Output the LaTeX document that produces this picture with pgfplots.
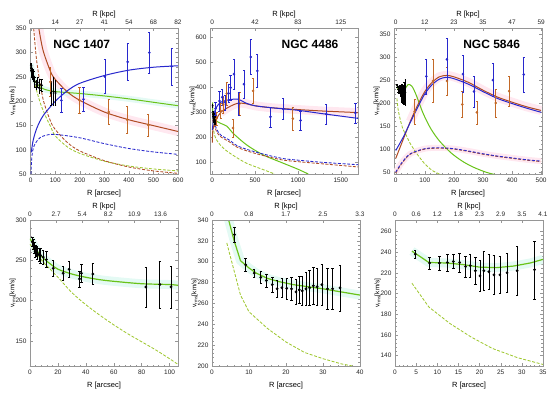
\documentclass[border=0pt]{standalone}
\usepackage{fontspec}
\setmainfont{Liberation Sans}
\usepackage{pgfplots}
\pgfplotsset{compat=1.18}
\usepackage{pgfplotstable}

\definecolor{cblue}{RGB}{40,40,205}
\definecolor{cbrown}{RGB}{175,75,35}
\definecolor{cpt}{RGB}{195,105,40}
\definecolor{cgreen}{RGB}{105,195,25}
\definecolor{cdgreen}{RGB}{160,200,50}
\definecolor{cframe}{RGB}{150,150,150}
\definecolor{cpink}{RGB}{255,232,240}
\definecolor{ccyan}{RGB}{228,250,244}

% NGC 1407 inner (black)
\pgfplotstableread{
x y e
1.7 273 6
2.4 270 6
3.1 266 7
3.6 261 7
4.3 262 7
5.2 259 8
6.4 257 8
7.6 256 9
9.5 254 9
11.8 251 10
16.6 240 10
23.7 234 9
28.0 239 10
35.5 227 10
36.8 234 11
45.0 233 13
83.0 217 25
93.0 220 29
101.0 217 26
}\datA
% NGC 4486 inner (black)
\pgfplotstableread{
x y e
6.1 326 7
9.1 297 6
11.4 289 4
13.2 285 6
14.7 282 6
16.3 278 7
17.6 274 8
18.9 275 9
20.2 274.5 10
21.5 274 11
22.7 271 12
23.6 273 13
24.4 272 14
25.4 274 16
26.4 275 17
27.4 277 18
28.4 276 18
29.7 278 20
31.2 274 20
32.6 274 20
34.6 275 22
}\datB
% NGC 5846 inner (black)
\pgfplotstableread{
x y e
4.8 238 4
8.2 229.5 6
10.5 229.5 7
12.4 230 8
13.8 231 7
15.3 230 9
16.7 226 10
17.8 227 11
19.0 222 13
20.1 217 15
21.0 222 19
22.2 221 17
23.4 218 19
24.8 218 18
26.5 220 19
28.9 222 24
33.0 223 28
}\datC
% NGC 1407 outer
\pgfplotstableread{
x y e
125 202 25
215 204 25
302 251 35
395 281 38
483 300 42
574 272 38
}\bluA
\pgfplotstableread{
x y e
80 240 30
199 202 26
318 178 26
393 162 27
479 151 22
}\redA
% NGC 4486 outer
\pgfplotstableread{
x y e
40 315 25
86 345 40
117 360 30
150 340 30
192 375 35
215 398 50
254 452 60
309 335 45
371 412 55
450 520 70
527 465 65
680 282 40
830 313 42
1030 268 38
1330 293 40
1670 298 40
}\bluB
\pgfplotstableread{
x y e
50 275 25
100 305 30
130 330 35
171 375 45
243 238 35
320 335 45
477 385 50
940 275 45
}\redB
% NGC 5846 outer
\pgfplotstableread{
x y e
105 258 38
176 295 45
231 263 40
269 225 33
334 250 36
440 262 38
}\bluC
\pgfplotstableread{
x y e
65 182 27
128 248 47
176 248 30
229 197 28
279 180 25
344 200 31
390 226 33
}\redC

\pgfplotsset{
  panel/.style={scale only axis, width=148pt, height=146pt, anchor=north west,
    axis line style={cframe, line width=0.4pt},
    every tick/.style={cframe, line width=0.4pt},
    tick align=inside, major tick length=3pt, minor tick length=1.5pt,
    minor x tick num=4, minor y tick num=4,
    tick label style={font=\fontsize{6.5}{7}\selectfont, text=black!85},
    /pgf/number format/assume math mode=true,
    /pgf/number format/1000 sep={},
    xlabel style={font=\fontsize{7.5}{8}\selectfont, yshift=-1pt},
    ylabel style={font=\fontsize{6.5}{7}\selectfont, yshift=-7pt},
    xtick pos=left, xticklabel pos=left,
    xlabel={R [arcsec]},
    ylabel={v\textsubscript{rms}[km/s]},
  },
  toppanel/.style={scale only axis, width=148pt, height=146pt, anchor=north west,
    hide y axis,
    axis line style={cframe, line width=0.4pt},
    every tick/.style={cframe, line width=0.4pt},
    tick align=inside, major tick length=3pt,
    tick label style={font=\fontsize{6.5}{7}\selectfont, text=black!85},
    xlabel style={font=\fontsize{7.5}{8}\selectfont, yshift=-5pt},
    xtick pos=right, xticklabel pos=right,
    xlabel={R [kpc]},
  },
  sol/.style={line width=1pt, smooth, tension=0.5},
  das/.style={line width=0.85pt, dash pattern=on 3pt off 1.6pt, smooth, tension=0.5},
  band/.style={line width=9pt, smooth, tension=0.5},
  dat/.style={only marks, mark=*, mark size=1.1pt,
    error bars/y dir=both, error bars/y explicit,
    error bars/error bar style={line width=0.7pt}},
}

\begin{document}
\begin{tikzpicture}
\path[use as bounding box] (0,0) rectangle (550pt,-392pt);

% ---------------- Panel 1: NGC 1407
\begin{axis}[panel, at={(30pt,-28.3pt)}, xmin=-3, xmax=600, ymin=50, ymax=350,
  xtick={0,100,...,600}, ytick={50,100,...,350}]
\addplot[band, cpink] coordinates {(33,350) (50,305) (80,262) (100,245) (150,219) (200,202) (300,178) (400,162) (500,150) (600,138)};
\addplot[band, ccyan, line width=6pt] coordinates {(0,277) (10,252) (20,239) (40,229) (60,224) (100,220) (200,216) (300,211) (400,205) (500,198) (600,191)};
\addplot[das, cdgreen] coordinates {(0,270) (10,247) (20,229) (40,195) (60,170) (80,149) (100,129) (150,106) (200,93) (300,77) (400,67) (500,61) (600,57)};
\addplot[das, cbrown] coordinates {(12,350) (25,280) (50,205) (80,160) (100,142) (150,115) (200,98) (300,78) (400,65) (500,57) (600,52)};
\addplot[das, cblue] coordinates {(1,50) (5,88) (15,110) (40,126) (80,132) (120,131) (200,125) (300,113) (400,103) (500,96) (600,91)};
\addplot[sol, cgreen] coordinates {(0,277) (10,252) (20,239) (40,229) (60,224) (100,220) (200,216) (300,211) (400,205) (500,198) (600,191)};
\addplot[sol, cbrown] coordinates {(33,350) (50,305) (80,262) (100,245) (150,219) (200,202) (300,178) (400,162) (500,150) (600,138)};
\addplot[sol, cblue] coordinates {(2,95) (10,120) (25,145) (50,170) (100,200) (150,222) (200,237) (300,253) (400,264) (500,270) (600,273)};
\addplot[dat, black, mark size=0.9pt] table[x=x,y=y,y error=e] {\datA};
\addplot[dat, cpt] table[x=x,y=y,y error=e] {\redA};
\addplot[dat, cblue] table[x=x,y=y,y error=e] {\bluA};
\node[font=\fontsize{12}{14}\selectfont\bfseries] at (rel axis cs:0.35,0.89) {NGC 1407};
\end{axis}
\begin{axis}[toppanel, at={(30pt,-28.3pt)}, xmin=-3, xmax=600, ymin=50, ymax=350,
  xtick={0,100,...,600}, xticklabels={0,14,27,41,54,68,82}]
\end{axis}

% ---------------- Panel 2: NGC 4486
\begin{axis}[panel, at={(210pt,-28pt)}, xmin=-25, xmax=1700, ymin=55, ymax=635,
  xtick={0,500,1000,1500}, ytick={100,200,...,600}]
\addplot[band, cpink] coordinates {(100,300) (200,322) (300,336) (400,334) (500,326) (700,318) (1000,311) (1300,305) (1700,299)};
\addplot[das, cdgreen] coordinates {(4,318) (7.7,268) (20,223) (38,200) (80,176) (150,152) (250,128) (400,98) (607,71) (730,55)};
\addplot[sol, cgreen] coordinates {(4.5,340) (8,300) (20,280) (40,268) (100,256) (171,245) (250,215) (409,169) (600,130) (806,101) (1000,74) (1120,55)};
\addplot[das, cbrown] coordinates {(5,270) (50,225) (100,203) (200,183) (300,160) (500,137) (800,112) (1000,104) (1300,95) (1700,83)};
\addplot[das, cblue] coordinates {(5,282) (50,235) (100,210) (200,190) (300,166) (500,143) (800,118) (1000,110) (1300,101) (1700,92)};
\addplot[sol, cbrown] coordinates {(3,180) (10,235) (50,272) (100,300) (200,322) (300,336) (400,334) (500,326) (700,318) (1000,311) (1300,305) (1700,299)};
\addplot[sol, cblue] coordinates {(3,230) (20,290) (50,320) (100,340) (200,350) (300,352) (400,336) (500,326) (700,318) (1000,308) (1300,294) (1700,276)};
\addplot[dat, black, mark size=0.7pt] table[x=x,y=y,y error=e] {\datB};
\addplot[dat, cpt] table[x=x,y=y,y error=e] {\redB};
\addplot[dat, cblue] table[x=x,y=y,y error=e] {\bluB};
\node[font=\fontsize{12}{14}\selectfont\bfseries] at (rel axis cs:0.676,0.89) {NGC 4486};
\end{axis}
\begin{axis}[toppanel, at={(210pt,-28pt)}, xmin=-25, xmax=1700, ymin=55, ymax=635,
  xtick={0,500,1000,1500}, xticklabels={0,42,83,125}]
\end{axis}

% ---------------- Panel 3: NGC 5846
\begin{axis}[panel, at={(394pt,-28pt)}, xmin=-6, xmax=503, ymin=46, ymax=363,
  xtick={0,100,...,500}, ytick={50,100,...,350}]
\addplot[band, cpink] coordinates {(50,160) (75,195) (100,225) (125,245) (150,257) (175,260) (200,257) (250,245) (300,228) (350,213) (400,202) (450,192) (500,184)};
\addplot[band, cpink, line width=6pt] coordinates {(0,50) (20,70) (50,90) (100,101) (150,103) (200,101) (250,96) (300,90) (350,85) (400,81) (450,77) (500,74)};
\addplot[das, cdgreen] coordinates {(4,210) (8,187) (13,171) (18,158) (23,147) (29,138) (35,131.5) (50,112) (75,88) (100,68) (125,54) (150,46) (158,44)};
\addplot[sol, cgreen] coordinates {(4,241) (8,230) (16,228) (24,226) (32,230) (42,240) (55,237) (70,218) (94,178) (120,145) (150,118) (190,92) (231,73) (270,60) (310,50) (340,45)};
\addplot[das, cbrown] coordinates {(0,48) (20,68) (50,89) (100,100) (150,102) (200,100) (250,95) (300,89) (350,84) (400,80) (450,76) (500,73)};
\addplot[das, cblue] coordinates {(0,50) (20,70) (50,90) (100,101) (150,103) (200,101) (250,96) (300,90) (350,85) (400,81) (450,77) (500,74)};
\addplot[sol, cbrown] coordinates {(0,80) (25,120) (50,160) (75,195) (100,225) (125,245) (150,257) (175,260) (200,257) (250,245) (300,228) (350,213) (400,202) (450,192) (500,184)};
\addplot[sol, cblue] coordinates {(0,97) (25,125) (50,158) (75,190) (100,220) (125,240) (150,252) (175,256) (200,253) (250,241) (300,225) (350,210) (400,199) (450,189) (500,180)};
\addplot[dat, black, mark size=0.7pt] table[x=x,y=y,y error=e] {\datC};
\addplot[dat, cpt] table[x=x,y=y,y error=e] {\redC};
\addplot[dat, cblue] table[x=x,y=y,y error=e] {\bluC};
\node[font=\fontsize{12}{14}\selectfont\bfseries] at (rel axis cs:0.66,0.89) {NGC 5846};
\end{axis}
\begin{axis}[toppanel, at={(394pt,-28pt)}, xmin=-6, xmax=503, ymin=46, ymax=363,
  xtick={0,100,...,500}, xticklabels={0,12,23,35,47,59}]
\end{axis}

% ---------------- Panel 4
\begin{axis}[panel, at={(30pt,-220pt)}, xmin=0, xmax=106, ymin=119, ymax=300,
  xtick={0,20,...,100}, ytick={150,200,250,300}]
\addplot[band, ccyan] coordinates {(0,277) (5,262) (10,252) (15,245) (20,239) (30,233) (40,229) (50,226) (60,224) (80,221) (100,220) (106,219)};
\addplot[das, cdgreen] coordinates {(0,270) (5,258) (10,247) (20,229) (30,210) (40,195) (50,182) (60,170) (70,159) (80,149) (90,139) (100,128) (106,121)};
\addplot[sol, cgreen, line width=1.2pt] coordinates {(0,277) (5,262) (10,252) (15,245) (20,239) (30,233) (40,229) (50,226) (60,224) (80,221) (100,220) (106,219)};
\addplot[dat, black, mark size=1.2pt] table[x=x,y=y,y error=e] {\datA};
\end{axis}
\begin{axis}[toppanel, at={(30pt,-220pt)}, xmin=0, xmax=106, ymin=119, ymax=300,
  xtick={0,18.7,37.4,56.1,74.8,93.5}, xticklabels={0,2.7,5.4,8.2,10.9,13.6}]
\end{axis}

% ---------------- Panel 5
\begin{axis}[panel, at={(212pt,-220pt)}, xmin=0, xmax=40, ymin=200, ymax=340,
  xtick={0,10,...,40}, ytick={200,220,...,340}]
\addplot[line width=9pt, ccyan] coordinates {(4.5,340) (6.0,320) (7.7,301) (10,294) (12,289) (15,284) (18,281) (22,278) (26,276) (30,274) (35,271) (40,268)};
\addplot[line width=0.85pt, dash pattern=on 3pt off 1.6pt, cdgreen] coordinates {(4,318) (7.7,268) (10,252) (15,236) (20,223) (25,213) (30,207) (35,202) (38,200)};
\addplot[line width=1.2pt, cgreen] coordinates {(4.5,340) (6.0,320) (7.7,301) (10,294) (12,289) (15,284) (18,281) (22,278) (26,276) (30,274) (35,271) (40,268)};
\addplot[dat, black, mark size=1.2pt] table[x=x,y=y,y error=e] {\datB};
\end{axis}
\begin{axis}[toppanel, at={(212pt,-220pt)}, xmin=0, xmax=40, ymin=200, ymax=340,
  xtick={0,10,...,40}, xticklabels={0,0.8,1.7,2.5,3.3}]
\end{axis}

% ---------------- Panel 6
\begin{axis}[panel, at={(395pt,-220pt)}, xmin=0, xmax=35, ymin=130, ymax=271,
  xtick={0,5,...,35}, ytick={140,160,...,260}]
\addplot[line width=9pt, ccyan] coordinates {(4,241) (8,230) (12,229.5) (16,228) (20,225.5) (24,225) (28,226.5) (32,229.5) (35,233)};
\addplot[line width=0.85pt, dash pattern=on 3pt off 1.6pt, cdgreen] coordinates {(4,210) (8,187) (13,171) (18,158) (23,147) (29,138) (35,131.5)};
\addplot[line width=1.2pt, cgreen] coordinates {(4,241) (8,230) (12,229.5) (16,228) (20,225.5) (24,225) (28,226.5) (32,229.5) (35,233)};
\addplot[dat, black, mark size=1.2pt] table[x=x,y=y,y error=e] {\datC};
\end{axis}
\begin{axis}[toppanel, at={(395pt,-220pt)}, xmin=0, xmax=35, ymin=130, ymax=271,
  xtick={0,5,...,35}, xticklabels={0,0.6,1.2,1.8,2.3,2.9,3.5,4.1}]
\end{axis}

\end{tikzpicture}
\end{document}
